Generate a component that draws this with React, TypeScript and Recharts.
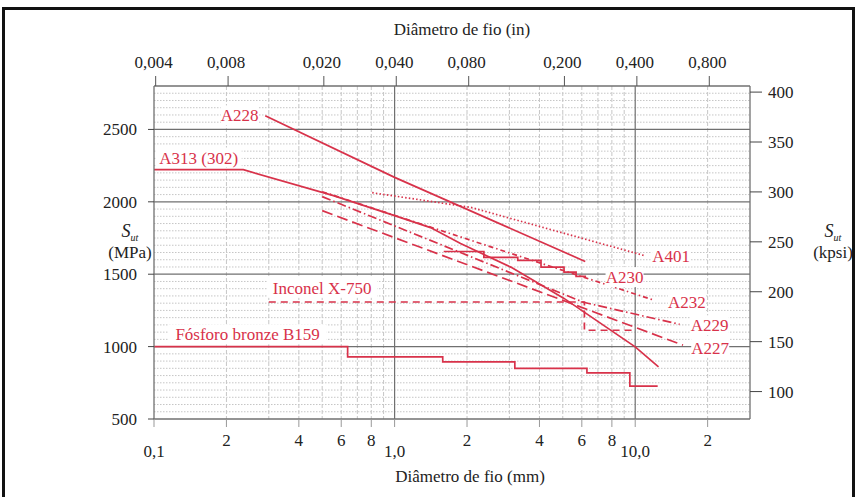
import React from "react";
import {
  LineChart,
  Line,
  XAxis,
  YAxis,
  CartesianGrid,
  ReferenceLine,
  ReferenceDot,
} from "recharts";

const RED = "#d8324a";
const MAJOR = "#707070";
const MINOR = "#c6c6c6";
const INK = "#222";
const FONT = "'Liberation Serif', 'Times New Roman', serif";

// wire diameter (mm) / minimum tensile strength (MPa)
const A228_D = [0.29, 1.0, 6.2];
const A228_S = [2594, 2169, 1588];

const A313_D = [0.1, 0.235, 0.557, 1.0, 1.41, 1.88, 3.04, 5.06, 10.0, 12.5];
const A313_S = [2222, 2222, 2043, 1905, 1822, 1712, 1549, 1333, 998, 860];

const A401_D = [0.807, 2.07, 10.9];
const A401_S = [2063, 1962, 1629];

const A232_D = [0.5, 12.0];
const A232_S = [2070, 1320];

const A229_D = [0.5, 6.1, 15.3];
const A229_S = [2036, 1306, 1154];

const A227_D = [0.5, 15.8];
const A227_S = [1939, 1010];

const A230_D = [1.6, 2.35, 3.25, 4.06, 5.06, 5.68, 6.25];
const A230_S = [1657, 1616, 1595, 1549, 1514, 1485, 1485];

const INCONEL_D = [0.3, 6.15, 10.0];
const INCONEL_S = [1308, 1113, 1113];

const B159_D = [0.1, 0.638, 1.585, 3.16, 6.3, 9.5, 12.4];
const B159_S = [1000, 929, 894, 849, 819, 727, 727];

// axis ticks
const MM_TICKS = [0.1, 0.2, 0.4, 0.6, 0.8, 1, 2, 4, 6, 8, 10, 20];
const MM_LABELS = ["0,1", "2", "4", "6", "8", "1,0", "2", "4", "6", "8", "10,0", "2"];
const IN_TICKS = [0.004, 0.008, 0.02, 0.04, 0.08, 0.2, 0.4, 0.8];
const IN_LABELS = ["0,004", "0,008", "0,020", "0,040", "0,080", "0,200", "0,400", "0,800"];
const MPA_TICKS = [500, 1000, 1500, 2000, 2500];
const KPSI_TICKS = [100, 150, 200, 250, 300, 350, 400];
const MAJOR_X = [1, 10];
const MAJOR_Y = [1000, 1500, 2000, 2500];
const MINOR_X = [0.2, 0.3, 0.4, 0.5, 0.6, 0.7, 0.8, 0.9, 2, 3, 4, 5, 6, 7, 8, 9, 20];

const MM_DOMAIN = [0.1, 30];
const MPA_DOMAIN = [500, 2800];
const MM_PER_IN = 25.4;
const MPA_PER_KPSI = 6.89476;

const minorY: number[] = [];
for (let v = 550; v < 2800; v += 50) if (v % 500 !== 0) minorY.push(v);

const zip = (d: number[], s: number[]) => d.map((x, i) => ({ d: x, s: s[i] }));

const SERIES = [
  { key: "A228", data: zip(A228_D, A228_S), type: "linear", dash: undefined },
  { key: "A313", data: zip(A313_D, A313_S), type: "linear", dash: undefined },
  { key: "A401", data: zip(A401_D, A401_S), type: "linear", dash: "1.5 2.2" },
  { key: "A232", data: zip(A232_D, A232_S), type: "linear", dash: "5 3 1.5 3" },
  { key: "A229", data: zip(A229_D, A229_S), type: "linear", dash: "9 3 1.5 3" },
  { key: "A227", data: zip(A227_D, A227_S), type: "linear", dash: "11 5" },
  { key: "A230", data: zip(A230_D, A230_S), type: "stepAfter", dash: undefined },
  { key: "Inconel", data: zip(INCONEL_D, INCONEL_S), type: "stepAfter", dash: "7 5" },
  { key: "B159", data: zip(B159_D, B159_S), type: "stepAfter", dash: undefined },
];

// the inch axis has no series of its own; an invisible trace along its ticks gives it a domain
const IN_TRACE = IN_TICKS.map((v) => ({ d: v, s: MPA_DOMAIN[0] }));

// series labels: text centre in data coordinates (mm, MPa)
const TAGS = [
  { text: "A228", d: 0.227, s: 2597 },
  { text: "A313 (302)", d: 0.1533, s: 2306 },
  { text: "Inconel X-750", d: 0.5, s: 1406 },
  { text: "Fósforo bronze B159", d: 0.245, s: 1085 },
  { text: "A401", d: 14.1, s: 1624 },
  { text: "A230", d: 9.03, s: 1480 },
  { text: "A232", d: 16.4, s: 1308 },
  { text: "A229", d: 20.4, s: 1147 },
  { text: "A227", d: 20.5, s: 992 },
];

const TagShape = (props: any) => {
  const { cx, cy, text } = props;
  const w = text.length * 8 + 6;
  return (
    <g>
      <rect x={cx - w / 2} y={cy - 10} width={w} height={20} fill="#fff" />
      <text x={cx} y={cy + 6} textAnchor="middle" fill={RED} fontSize={17} fontFamily={FONT}>
        {text}
      </text>
    </g>
  );
};

const MmTick = (props: any) => {
  const { x, y, index } = props;
  const label = MM_LABELS[index] ?? "";
  const decade = label.includes(",");
  return (
    <text x={x} y={y + (decade ? 28 : 17)} textAnchor="middle" fill={INK} fontSize={17} fontFamily={FONT}>
      {label}
    </text>
  );
};

const InTick = (props: any) => {
  const { x, y, index } = props;
  return (
    <text x={x - 2} y={y - 4} textAnchor="middle" fill={INK} fontSize={17} fontFamily={FONT}>
      {IN_LABELS[index]}
    </text>
  );
};

const MpaTick = (props: any) => {
  const { x, y, payload } = props;
  return (
    <text x={x} y={y + 6} textAnchor="end" fill={INK} fontSize={17} fontFamily={FONT}>
      {payload.value}
    </text>
  );
};

const KpsiTick = (props: any) => {
  const { x, y, payload } = props;
  return (
    <text x={x} y={y + 6} textAnchor="start" fill={INK} fontSize={17} fontFamily={FONT}>
      {payload.value}
    </text>
  );
};

const titleStyle: React.CSSProperties = {
  position: "absolute",
  fontFamily: FONT,
  fontSize: 17,
  color: INK,
  whiteSpace: "nowrap",
};

const SutLabel = ({ unit, left }: { unit: string; left: number }) => (
  <div style={{ ...titleStyle, left, top: 222, width: 60, textAlign: "center", lineHeight: "19px" }}>
    <i style={{ fontSize: 18 }}>S</i>
    <i style={{ fontSize: 10, position: "relative", top: 4 }}>ut</i>
    <br />({unit})
  </div>
);

export default function App() {
  return (
    <div style={{ position: "absolute", left: 0, top: 0, width: 858, height: 497, overflow: "hidden", background: "#fff" }}>
      <div
        style={{
          position: "absolute",
          left: 2,
          top: 7,
          width: 853,
          height: 600,
          border: "3px solid #111",
          boxSizing: "border-box",
        }}
      />
      <div style={{ ...titleStyle, left: 362, top: 20, width: 200, textAlign: "center" }}>Diâmetro de fio (in)</div>
      <div style={{ ...titleStyle, left: 370, top: 467, width: 200, textAlign: "center" }}>Diâmetro de fio (mm)</div>
      <SutLabel unit="MPa" left={100} />
      <SutLabel unit="kpsi" left={803} />

      <div style={{ position: "absolute", left: 0, top: 0 }}>
        <LineChart width={858} height={497} margin={{ top: 36, right: 48, bottom: 28, left: 104 }}>
          <CartesianGrid
            xAxisId="mm"
            yAxisId="mpa"
            vertical={false}
            horizontalValues={minorY}
            stroke={MINOR}
            strokeDasharray="1.5 1.5"
          />
          <CartesianGrid
            xAxisId="mm"
            yAxisId="mpa"
            horizontal={false}
            verticalValues={MINOR_X}
            stroke={MINOR}
            strokeDasharray="4 2"
          />
          <XAxis
            xAxisId="mm"
            dataKey="d"
            type="number"
            scale="log"
            domain={MM_DOMAIN}
            allowDataOverflow
            ticks={MM_TICKS}
            interval={0}
            height={50}
            tickSize={8}
            tickMargin={2}
            tick={<MmTick />}
            axisLine={{ stroke: MAJOR, strokeWidth: 1.3 }}
            tickLine={{ stroke: "#999" }}
          />
          <XAxis
            xAxisId="in"
            dataKey="d"
            orientation="top"
            type="number"
            scale="log"
            domain={[MM_DOMAIN[0] / MM_PER_IN, MM_DOMAIN[1] / MM_PER_IN]}
            allowDataOverflow
            ticks={IN_TICKS}
            interval={0}
            height={50}
            tickSize={10}
            tickMargin={4}
            tick={<InTick />}
            axisLine={{ stroke: MAJOR, strokeWidth: 1.3 }}
            tickLine={{ stroke: "#555" }}
          />
          <YAxis
            yAxisId="mpa"
            type="number"
            domain={MPA_DOMAIN}
            allowDataOverflow
            ticks={MPA_TICKS}
            interval={0}
            width={50}
            tickSize={6}
            tickMargin={11}
            tick={<MpaTick />}
            axisLine={{ stroke: MAJOR, strokeWidth: 1.3 }}
            tickLine={{ stroke: "#444" }}
          />
          <YAxis
            yAxisId="kpsi"
            orientation="right"
            type="number"
            domain={[MPA_DOMAIN[0] / MPA_PER_KPSI, MPA_DOMAIN[1] / MPA_PER_KPSI]}
            allowDataOverflow
            ticks={KPSI_TICKS}
            interval={0}
            width={60}
            tickSize={12}
            tickMargin={6}
            tick={<KpsiTick />}
            axisLine={{ stroke: MAJOR, strokeWidth: 1.3 }}
            tickLine={{ stroke: "#444" }}
          />
          {MAJOR_Y.map((v) => (
            <ReferenceLine key={`y${v}`} xAxisId="mm" yAxisId="mpa" y={v} stroke={MAJOR} strokeWidth={1.2} />
          ))}
          {MAJOR_X.map((v) => (
            <ReferenceLine key={`x${v}`} xAxisId="mm" yAxisId="mpa" x={v} stroke={MAJOR} strokeWidth={1.2} />
          ))}
          <Line
            xAxisId="in"
            yAxisId="mpa"
            data={IN_TRACE}
            dataKey="s"
            stroke="none"
            dot={false}
            activeDot={false}
            isAnimationActive={false}
          />
          {SERIES.map((s) => (
            <Line
              key={s.key}
              xAxisId="mm"
              yAxisId="mpa"
              data={s.data}
              dataKey="s"
              type={s.type as any}
              stroke={RED}
              strokeWidth={1.7}
              strokeDasharray={s.dash}
              dot={false}
              activeDot={false}
              isAnimationActive={false}
            />
          ))}
          {TAGS.map((t) => (
            <ReferenceDot
              key={t.text}
              xAxisId="mm"
              yAxisId="mpa"
              x={t.d}
              y={t.s}
              r={0}
              ifOverflow="visible"
              shape={(p: any) => <TagShape {...p} text={t.text} />}
            />
          ))}
        </LineChart>
      </div>
    </div>
  );
}
